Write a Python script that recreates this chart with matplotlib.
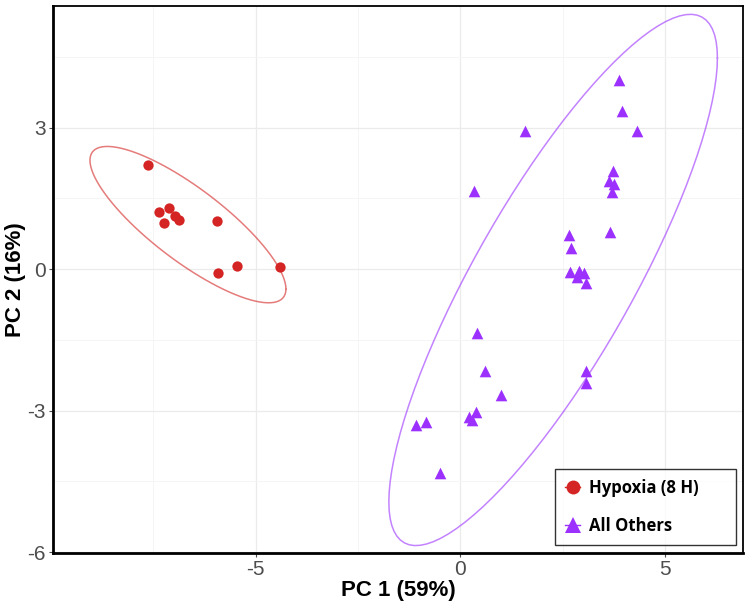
import numpy as np
import matplotlib
matplotlib.use("Agg")
from matplotlib import pyplot as plt
from matplotlib.lines import Line2D
from matplotlib.ticker import MultipleLocator

plt.rcParams["axes.unicode_minus"] = False

# PC scores
hyp_x = [-7.62, -7.36, -7.11, -7.23, -6.98, -6.87, -5.95, -5.93, -5.46, -4.41]
hyp_y = [2.20, 1.21, 1.29, 0.98, 1.13, 1.04, 1.03, -0.09, 0.06, 0.04]

oth_x = [3.88, 3.94, 4.30, 1.58, 3.73, 3.62, 3.76, 3.71, 0.32, 2.65, 3.64, 2.69,
         2.68, 2.90, 2.84, 3.02, 3.07,
         0.40, 0.60, 0.98, 0.39, 0.21, 0.28, -1.08, -0.85, -0.50, 3.06, 3.07]
oth_y = [4.01, 3.35, 2.93, 2.93, 2.09, 1.88, 1.80, 1.63, 1.66, 0.72, 0.78, 0.45,
         -0.06, -0.04, -0.16, -0.09, -0.29,
         -1.36, -2.17, -2.67, -3.02, -3.13, -3.20, -3.30, -3.25, -4.33, -2.17, -2.41]

labels = ["Hypoxia (8 H)", "All Others"]
colors = ["#D42424", "#9B30FF"]
# qf(0.95, 2, n-1) for n = 10 and n = 28
f_quant = {10: 4.2565, 28: 3.3541}


def cov_trob(pts, nu=5, maxit=25, tol=0.01):
    # robust t covariance, like MASS::cov.trob
    n, p = pts.shape
    loc = pts.mean(axis=0)
    w = np.ones(n)
    for _ in range(maxit):
        w0 = w
        X = pts - loc
        _, d, vt = np.linalg.svd(np.sqrt(w / w.sum())[:, None] * X, full_matrices=False)
        wX = X @ vt.T @ np.diag(1 / d)
        Q = (wX ** 2).sum(axis=1)
        w = (nu + p) / (nu + Q)
        loc = (w[:, None] * pts).sum(axis=0) / w.sum()
        if np.all(np.abs(w - w0) < tol):
            break
    cov = (np.sqrt(w)[:, None] * X).T @ (np.sqrt(w)[:, None] * X) / n
    return loc, cov


def ellipse(xs, ys, level_q):
    pts = np.column_stack([xs, ys])
    center, shape = cov_trob(pts)
    ch = np.linalg.cholesky(shape).T
    r = np.sqrt(2 * level_q)
    a = np.linspace(0, 2 * np.pi, 101)
    circ = np.column_stack([np.cos(a), np.sin(a)])
    e = center + r * circ @ ch
    return e[:, 0], e[:, 1]


fig = plt.figure(figsize=(7.5, 6.09), dpi=100)
ax = fig.add_axes([0.0707, 0.092, 0.92, 0.898])

ex, ey = ellipse(hyp_x, hyp_y, f_quant[len(hyp_x)])
ax.plot(ex, ey, color=colors[0], alpha=0.6, lw=1.1, zorder=2)
ex, ey = ellipse(oth_x, oth_y, f_quant[len(oth_x)])
ax.plot(ex, ey, color=colors[1], alpha=0.6, lw=1.1, zorder=2)

ax.scatter(hyp_x, hyp_y, s=55, color=colors[0], marker="o", zorder=3, linewidths=0)
ax.scatter(oth_x, oth_y, s=70, color=colors[1], marker="^", zorder=3, linewidths=0)

ax.set_xlim(-9.95, 6.9)
ax.set_ylim(-6.02, 5.58)
ax.set_xticks([-5, 0, 5])
ax.set_yticks([-6, -3, 0, 3])
ax.xaxis.set_minor_locator(MultipleLocator(2.5))
ax.yaxis.set_minor_locator(MultipleLocator(1.5))
ax.grid(which="major", color="#EBEBEB", lw=0.9)
ax.grid(which="minor", color="#F4F4F4", lw=0.6)
ax.set_axisbelow(True)
ax.tick_params(which="minor", length=0)
ax.tick_params(which="major", length=3, color="#4D4D4D", labelcolor="#4D4D4D",
               labelsize=15, pad=2)
for lab in ax.get_xticklabels() + ax.get_yticklabels():
    lab.set_family("Liberation Sans")

for side in ["left", "bottom"]:
    ax.spines[side].set_linewidth(2.0)
for side in ["top", "right"]:
    ax.spines[side].set_linewidth(1.3)

ax.set_xlabel("PC 1 (59%)", fontsize=16, fontweight="bold",
              family="Liberation Sans", labelpad=1)
ax.set_ylabel("PC 2 (16%)", fontsize=16, fontweight="bold",
              family="Liberation Sans", labelpad=1)

handles = [
    Line2D([], [], color=colors[0], marker="o", markersize=10, lw=1.0,
           markeredgewidth=0),
    Line2D([], [], color=colors[1], marker="^", markersize=11, lw=1.0,
           markeredgewidth=0),
]
leg = ax.legend(handles, labels, loc="lower left",
                bbox_to_anchor=(0.7275, 0.0146, 0.2623, 0.152), mode="expand",
                frameon=True, fancybox=False, edgecolor="black",
                handlelength=0.9, handletextpad=0.55, labelspacing=1.2,
                borderpad=0.6, borderaxespad=0,
                prop={"weight": "bold", "size": 12, "family": "Open Sans"})
leg.get_frame().set_linewidth(1.0)

fig.savefig("out.png", dpi=100)
